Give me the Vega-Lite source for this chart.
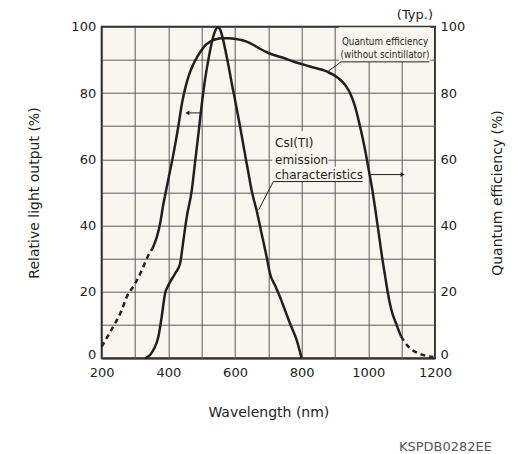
{
  "$schema": "https://vega.github.io/schema/vega-lite/v6.json",
  "width": 333.3,
  "height": 331.6,
  "autosize": "none",
  "padding": {"left": 101.7, "top": 26.7, "right": 97, "bottom": 95.7},
  "background": "white",
  "config": {
    "font": "DejaVu Sans",
    "view": {"fill": "#f8f6ef", "stroke": "#231f20", "strokeWidth": 2},
    "axis": {
      "gridColor": "#5a5a5a", "gridWidth": 1, "gridOpacity": 1,
      "ticks": false, "domain": false, "labelFlush": false,
      "labelFont": "DejaVu Sans", "labelFontSize": 13, "labelColor": "#231f20",
      "titleFont": "DejaVu Sans", "titleFontSize": 14, "titleFontWeight": "normal", "titleColor": "#231f20"
    }
  },
  "title": {
    "text": "KSPDB0282EE", "orient": "bottom", "anchor": "end", "frame": "group",
    "dx": 57, "offset": 22, "fontSize": 13, "fontWeight": "normal", "color": "#555555", "font": "DejaVu Sans"
  },
  "datasets": {
    "csi": [
      {"x": 330, "y": 0}, {"x": 345, "y": 1}, {"x": 355, "y": 2.5},
      {"x": 370, "y": 6.5}, {"x": 380, "y": 12.5}, {"x": 390, "y": 19.5},
      {"x": 400, "y": 22}, {"x": 420, "y": 25.5}, {"x": 435, "y": 28.5},
      {"x": 445, "y": 35.5}, {"x": 455, "y": 42.5}, {"x": 470, "y": 50.5},
      {"x": 480, "y": 59}, {"x": 490, "y": 67.5}, {"x": 502, "y": 78},
      {"x": 510, "y": 84}, {"x": 520, "y": 90}, {"x": 532, "y": 96},
      {"x": 540, "y": 98.6}, {"x": 549, "y": 99.8}, {"x": 556, "y": 99},
      {"x": 562, "y": 97}, {"x": 577, "y": 90}, {"x": 592, "y": 82},
      {"x": 600, "y": 78}, {"x": 615, "y": 70}, {"x": 630, "y": 61.5},
      {"x": 640, "y": 56}, {"x": 650, "y": 50.5}, {"x": 665, "y": 44.5},
      {"x": 680, "y": 37.5}, {"x": 695, "y": 30.5}, {"x": 705, "y": 25.5},
      {"x": 720, "y": 22}, {"x": 735, "y": 18.5}, {"x": 750, "y": 14.5},
      {"x": 765, "y": 10.5}, {"x": 785, "y": 5.5}, {"x": 800, "y": 0}
    ],
    "qe_low": [
      {"x": 200, "y": 3.5}, {"x": 220, "y": 7}, {"x": 240, "y": 10.5},
      {"x": 260, "y": 14.5}, {"x": 275, "y": 18.5}, {"x": 300, "y": 22.5},
      {"x": 320, "y": 26.5}, {"x": 345, "y": 32}, {"x": 352, "y": 33}
    ],
    "qe": [
      {"x": 352, "y": 33}, {"x": 358, "y": 34.5}, {"x": 365, "y": 36.5},
      {"x": 375, "y": 40.5}, {"x": 385, "y": 46.5}, {"x": 393, "y": 50.5},
      {"x": 400, "y": 54}, {"x": 415, "y": 61.5}, {"x": 430, "y": 70},
      {"x": 442, "y": 77.5}, {"x": 452, "y": 82}, {"x": 462, "y": 85.5},
      {"x": 475, "y": 88.7}, {"x": 487, "y": 91}, {"x": 500, "y": 93},
      {"x": 512, "y": 94.5}, {"x": 527, "y": 95.6}, {"x": 542, "y": 96.2},
      {"x": 562, "y": 96.5}, {"x": 582, "y": 96.5}, {"x": 602, "y": 96.3},
      {"x": 622, "y": 95.9}, {"x": 642, "y": 95.2}, {"x": 657, "y": 94.4},
      {"x": 672, "y": 93.5}, {"x": 702, "y": 92}, {"x": 742, "y": 90.7},
      {"x": 775, "y": 89.5}, {"x": 825, "y": 88}, {"x": 875, "y": 86.5},
      {"x": 910, "y": 84.5}, {"x": 930, "y": 82.5}, {"x": 945, "y": 80},
      {"x": 960, "y": 76}, {"x": 975, "y": 70}, {"x": 990, "y": 63},
      {"x": 1000, "y": 57.5}, {"x": 1012, "y": 50.8}, {"x": 1020, "y": 45.5},
      {"x": 1030, "y": 38.5}, {"x": 1042, "y": 30}, {"x": 1050, "y": 25},
      {"x": 1058, "y": 20}, {"x": 1068, "y": 15}, {"x": 1085, "y": 10},
      {"x": 1098, "y": 6.6}
    ],
    "qe_high": [
      {"x": 1098, "y": 6.6}, {"x": 1110, "y": 4.8}, {"x": 1125, "y": 3},
      {"x": 1140, "y": 2}, {"x": 1155, "y": 1.3}, {"x": 1175, "y": 0.7},
      {"x": 1195, "y": 0.4}
    ],
    "boxes": [
      {"x": 912, "x2": 1186, "y": 89.4, "y2": 99.8},
      {"x": 712, "x2": 985, "y": 53.3, "y2": 57.8},
      {"x": 712, "x2": 880, "y": 57.8, "y2": 68.5}
    ],
    "leaders": [
      {"x": 918, "y": 89.4, "x2": 1183, "y2": 89.4},
      {"x": 918, "y": 89.4, "x2": 880, "y2": 86.6},
      {"x": 715, "y": 53.3, "x2": 983, "y2": 53.3},
      {"x": 715, "y": 53.3, "x2": 671, "y2": 44.8},
      {"x": 1007, "y": 55.4, "x2": 1100, "y2": 55.4},
      {"x": 500, "y": 74, "x2": 460, "y2": 74}
    ],
    "arrows": [
      {"x": 1103, "y": 55.4, "dir": "right"},
      {"x": 457, "y": 74, "dir": "left"}
    ],
    "labels": [
      {"x": 720, "y": 64.9, "t": "CsI(TI)"},
      {"x": 720, "y": 59.9, "t": "emission"},
      {"x": 720, "y": 55.3, "t": "characteristics"}
    ],
    "qelabels": [
      {"x": 1050, "y": 95.5, "t": "Quantum efficiency"},
      {"x": 1050, "y": 91.4, "t": "(without scintillator)"}
    ],
    "typ": [{"x": 1194, "y": 103.6, "t": "(Typ.)"}]
  },
  "encoding": {
    "x": {
      "field": "x", "type": "quantitative",
      "scale": {"domain": [200, 1200], "nice": false, "zero": false},
      "axis": {
        "values": [200, 300, 400, 500, 600, 700, 800, 900, 1000, 1100, 1200],
        "labelExpr": "datum.value % 200 === 0 ? datum.label : ''",
        "format": "d", "grid": true, "title": "Wavelength (nm)",
        "labelPadding": 8, "titlePadding": 26
      }
    }
  },
  "resolve": {"scale": {"y": "independent"}},
  "layer": [
    {
      "encoding": {
        "y": {
          "field": "y", "type": "quantitative",
          "scale": {"domain": [0, 100], "nice": false, "zero": false},
          "axis": {
            "orient": "left",
            "values": [0, 10, 20, 30, 40, 50, 60, 70, 80, 90, 100],
            "labelExpr": "datum.value % 20 === 0 ? datum.label : ''",
            "labelOffset": {"condition": {"test": "datum.value === 0", "value": -4}, "value": 0},
            "grid": true, "title": "Relative light output (%)",
            "labelPadding": 6, "titlePadding": 29
          }
        }
      },
      "layer": [
        {
          "data": {"name": "boxes"},
          "mark": {"type": "rect", "fill": "#f8f6ef", "stroke": null},
          "encoding": {"x2": {"field": "x2"}, "y2": {"field": "y2"}}
        },
        {
          "data": {"name": "leaders"},
          "mark": {"type": "rule", "stroke": "#231f20", "strokeWidth": 1},
          "encoding": {"x2": {"field": "x2"}, "y2": {"field": "y2"}}
        },
        {
          "data": {"name": "arrows"},
          "mark": {"type": "point", "filled": true, "size": 22, "color": "#231f20", "opacity": 1},
          "encoding": {
            "shape": {"field": "dir", "type": "nominal", "scale": {"domain": ["left", "right"], "range": ["triangle-left", "triangle-right"]}, "legend": null}
          }
        },
        {
          "data": {"name": "labels"},
          "mark": {"type": "text", "align": "left", "baseline": "middle", "fontSize": 12, "font": "DejaVu Sans", "color": "#231f20"},
          "encoding": {"text": {"field": "t"}}
        },
        {
          "data": {"name": "qelabels"},
          "mark": {"type": "text", "align": "center", "baseline": "middle", "fontSize": 9.8, "font": "DejaVu Sans Condensed", "color": "#231f20"},
          "encoding": {"text": {"field": "t"}}
        },
        {
          "data": {"name": "typ"},
          "mark": {"type": "text", "align": "right", "baseline": "middle", "fontSize": 13, "font": "DejaVu Sans", "color": "#231f20"},
          "encoding": {"text": {"field": "t"}}
        },
        {
          "data": {"name": "csi"},
          "mark": {"type": "line", "interpolate": "monotone", "stroke": "#231f20", "strokeWidth": 2.5},
          "encoding": {}
        }
      ]
    },
    {
      "encoding": {
        "y": {
          "field": "y", "type": "quantitative",
          "scale": {"domain": [0, 100], "nice": false, "zero": false},
          "axis": {
            "orient": "right",
            "values": [0, 20, 40, 60, 80, 100],
            "labelOffset": {"condition": {"test": "datum.value === 0", "value": -4}, "value": 0},
            "grid": false, "title": "Quantum efficiency (%)",
            "titleAngle": 270, "titleBaseline": "top",
            "labelPadding": 5, "titlePadding": 26
          }
        }
      },
      "layer": [
        {
          "data": {"name": "qe"},
          "mark": {"type": "line", "interpolate": "monotone", "stroke": "#231f20", "strokeWidth": 2.5},
          "encoding": {}
        },
        {
          "data": {"name": "qe_low"},
          "mark": {"type": "line", "interpolate": "monotone", "stroke": "#231f20", "strokeWidth": 2.5, "strokeDash": [5, 4]},
          "encoding": {}
        },
        {
          "data": {"name": "qe_high"},
          "mark": {"type": "line", "interpolate": "monotone", "stroke": "#231f20", "strokeWidth": 2.5, "strokeDash": [5, 4]},
          "encoding": {}
        }
      ]
    }
  ]
}
